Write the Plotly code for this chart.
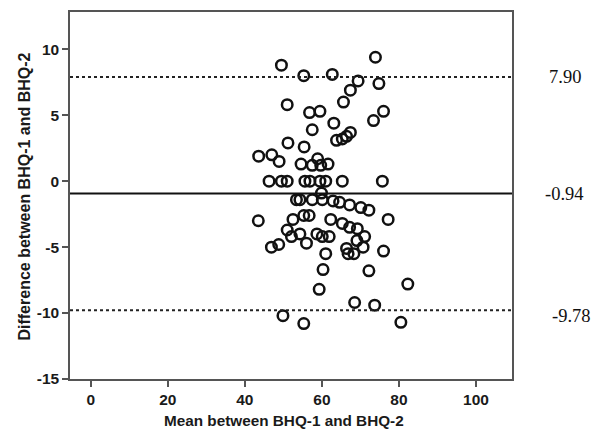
import plotly.graph_objects as go

# Data (mean of BHQ-1 & BHQ-2, difference)
mean_vals = [
    49.5, 73.9, 55.3, 62.7, 69.4, 74.8, 67.4, 65.6, 51.0, 56.8,
    59.5, 76.0, 73.4, 63.1, 57.5, 67.4, 66.4, 65.3, 63.8, 51.2,
    55.4, 43.6, 47.0, 48.9, 54.6, 57.5, 58.9, 59.7, 61.6,
    46.3, 49.5, 51.0, 55.6, 56.9, 59.5, 61.0, 65.3, 75.7,
    53.4, 54.3, 57.5, 59.9, 60.1, 62.9, 64.6, 67.2, 70.1, 72.2,
    43.5, 52.5, 55.3, 56.7, 62.3, 65.3, 67.2, 69.2, 77.2, 71.1,
    69.1, 51.0, 52.1, 54.3, 56.0, 58.7, 60.1, 61.9, 46.9, 48.8,
    61.0, 66.4, 66.8, 68.3, 70.7, 76.0, 60.3, 72.2, 59.3, 68.5,
    73.7, 49.9, 55.3, 82.3, 80.5,
]
diff_vals = [
    8.8, 9.4, 8.0, 8.1, 7.6, 7.4, 6.9, 6.0, 5.8, 5.2,
    5.3, 5.3, 4.6, 4.4, 3.9, 3.7, 3.4, 3.2, 3.1, 2.9,
    2.6, 1.9, 2.0, 1.5, 1.3, 1.2, 1.7, 1.2, 1.3,
    0.0, 0.0, 0.0, 0.0, 0.0, 0.0, 0.0, 0.0, 0.0,
    -1.4, -1.4, -1.4, -0.9, -1.4, -1.5, -1.6, -1.8, -2.0, -2.2,
    -3.0, -2.9, -2.6, -2.6, -2.9, -3.2, -3.5, -3.6, -2.9, -4.2,
    -4.5, -3.7, -4.2, -4.0, -4.7, -4.0, -4.2, -4.2, -5.0, -4.8,
    -5.5, -5.1, -5.5, -5.5, -5.0, -5.3, -6.7, -6.8, -8.2, -9.2,
    -9.4, -10.2, -10.8, -7.8, -10.7,
]

mean_diff = -0.94
upper_loa = 7.90
lower_loa = -9.78
ref_labels = ["7.90", "-0.94", "-9.78"]

x_ticks = [0, 20, 40, 60, 80, 100]
y_ticks = [-15, -10, -5, 0, 5, 10]

# The page body has an 8px margin, so work in figure coordinates = page - 8
OFF = 8
PL, PR, PT, PB = 70 - OFF, 512 - OFF, 12 - OFF, 379.3 - OFF
FW, FH = 600 - OFF, 431 - OFF
PW, PH = PR - PL, PB - PT

fig = go.Figure()
fig.add_trace(go.Scatter(
    x=mean_vals, y=diff_vals, mode="markers",
    marker=dict(symbol="circle-open", size=10.5, color="#111111",
                line=dict(width=2.5, color="#111111")),
    showlegend=False, cliponaxis=False,
))

# reference lines
fig.add_shape(type="line", xref="paper", x0=0, x1=1, y0=mean_diff, y1=mean_diff,
              line=dict(color="#111111", width=2))
for v in (upper_loa, lower_loa):
    fig.add_shape(type="line", xref="paper", x0=0, x1=1, y0=v, y1=v,
                  line=dict(color="#222222", width=2, dash="dot"))

# right-side labels (page x of left edge)
label_pos = [(upper_loa, 547, 0), (mean_diff, 543, 0), (lower_loa, 550, -6)]
for (val, px, ys), txt in zip(label_pos, ref_labels):
    fig.add_annotation(xref="paper", yref="y", x=(px - OFF - PL) / PW, y=val,
                       text=txt, showarrow=False, xanchor="left", yanchor="middle",
                       yshift=ys,
                       font=dict(family="Liberation Serif", size=18.5, color="#111111"))

# axis titles
fig.add_annotation(xref="paper", yref="paper", x=(284 - OFF - PL) / PW, y=(PB - (421 - OFF)) / PH,
                   text="<b>Mean between BHQ-1 and BHQ-2</b>", showarrow=False,
                   xanchor="center", yanchor="middle",
                   font=dict(family="Liberation Sans", size=15.3, color="#1a1a1a"))
fig.add_annotation(xref="paper", yref="paper", x=(25 - OFF - PL) / PW, y=(PB - (196.7 - OFF)) / PH,
                   text="<b>Difference between BHQ-1 and BHQ-2</b>", showarrow=False,
                   textangle=-90, xanchor="center", yanchor="middle",
                   font=dict(family="Liberation Sans", size=16, color="#1a1a1a"))

px_per_unit = (476 - 90.7) / 100
x0 = -(90.7 - 70) / px_per_unit
x1 = (512 - 90.7) / px_per_unit

tick_font = dict(family="Liberation Sans", size=15.5, color="#1a1a1a")
fig.update_xaxes(range=[x0, x1], tickvals=x_ticks, ticktext=[f"<b>{t}</b>" for t in x_ticks],
                 showgrid=False, zeroline=False, showline=True, mirror=True,
                 linecolor="#555555", linewidth=1.5, ticks="outside", ticklen=6,
                 tickcolor="#555555", tickwidth=1.5, tickfont=tick_font)
fig.update_yaxes(range=[-15, 12.83], tickvals=y_ticks, ticktext=[f"<b>{t}</b>" for t in y_ticks],
                 showgrid=False, zeroline=False, showline=True, mirror=True,
                 linecolor="#555555", linewidth=1.5, ticks="outside", ticklen=6,
                 tickcolor="#555555", tickwidth=1.5, tickfont=tick_font)

fig.update_layout(width=FW, height=FH,
                  margin=dict(l=PL, r=FW - PR, t=PT, b=FH - PB, autoexpand=False),
                  plot_bgcolor="white", paper_bgcolor="white")

fig.write_html("out.html")
